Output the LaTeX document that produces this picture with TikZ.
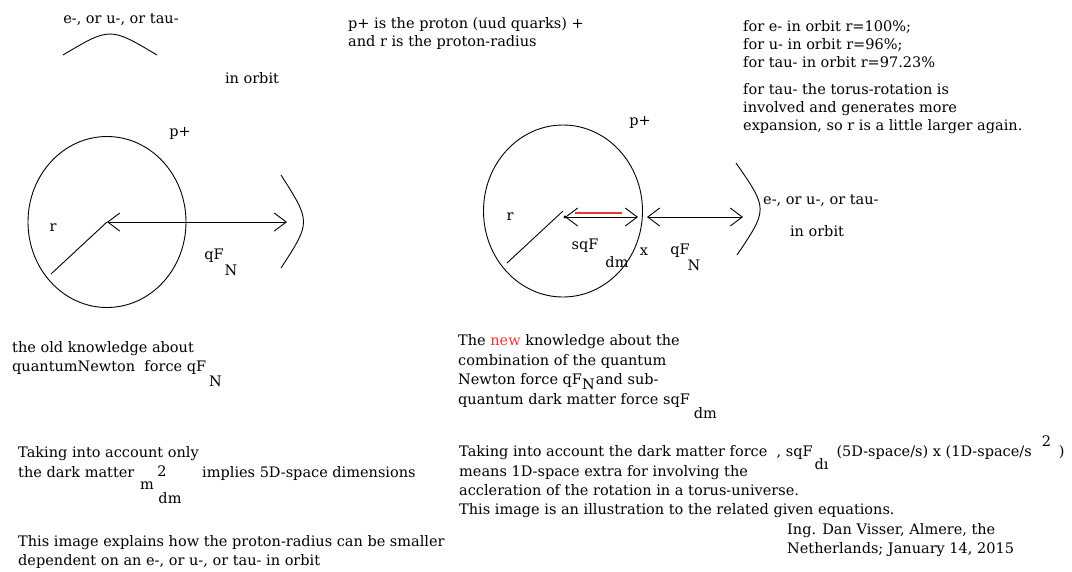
\documentclass[tikz,border=0pt]{standalone}
\usepackage{fontspec}
\setmainfont{DejaVu Serif}
\usetikzlibrary{arrows.meta,shapes.geometric}
\definecolor{newred}{RGB}{238,52,52}
\newcommand{\dropsub}[2]{\smash{\raisebox{#1}{#2}}}

\begin{document}
\begin{tikzpicture}[x=1pt,y=-1pt,>={Straight Barb[length=12pt,width=18pt]},
  txt/.style={inner sep=0pt,anchor=west,font=\fontsize{14.5}{19}\selectfont},
  lbl/.style={inner sep=0pt,font=\fontsize{14.5}{19}\selectfont},
  blk/.style={inner sep=0pt,anchor=north west,align=left,font=\fontsize{14.5}{#1}\selectfont},
  proton/.style={draw,ellipse,inner sep=0pt,line width=0.9pt},
  orbit/.style={line width=0.9pt}]
\useasboundingbox (0,0) rectangle (1072,571);

% heading texts
\node[lbl] (lep1) at (121,20) {e-, or u-, or tau-};
\node[lbl] (orb1) at (252,78) {in orbit};
\node[blk=18] (legend) at (348,17.5) {p+ is the proton (uud quarks) +\\and r is the proton-radius};
\node[blk=18] (radii) at (743,20.5) {for e- in orbit r=100\%;\\for u- in orbit r=96\%;\\for tau- in orbit r=97.23\%\\[9pt]
  for tau- the torus-rotation is\\involved and generates more\\expansion, so r is a little larger again.};

% left: the old picture
\node[proton,minimum width=158,minimum height=171] (p1) at (107,222) {};
\coordinate (r1) at (51,274);
\coordinate (o1) at (287,222);
\draw[orbit] (p1.center) -- (r1);
\draw[orbit,<->] (p1.center) -- (o1);
\draw[orbit] (281,175) .. controls (311,222) .. (281,268);
\draw[orbit] (63,55) .. controls (110,27) .. (157,55);
\node[lbl] (pp1) at (180,133) {p+};
\node[lbl] (rr1) at (53,228) {r};
\node[lbl] (qf1) at (214,256) {qF};
\node[lbl] (qf1n) at (231,270) {N};

% right: the new picture
\node[proton,minimum width=159,minimum height=172] (p2) at (563,211) {};
\coordinate (r2) at (507,263);
\coordinate (c2) at (565,217);
\coordinate (x2) at (638,217);
\coordinate (o2a) at (647,217);
\coordinate (o2b) at (743,217);
\draw[orbit] (p2.center) -- (r2);
\fill (c2) circle (1.6);
\draw[orbit,<->] (c2) -- (x2);
\draw[newred,line width=1.2pt] (575,213) -- (622,213);
\draw[orbit,<->] (o2a) -- (o2b);
\draw[orbit] (736,163) .. controls (768,209) .. (737,255);
\node[lbl] (pp2) at (640,122) {p+};
\node[lbl] (rr2) at (510,217) {r};
\node[lbl] (sqf2) at (585,246) {sqF};
\node[lbl] (sqf2dm) at (617,262) {dm};
\node[lbl] (xx2) at (644,252) {x};
\node[lbl] (qf2) at (680,251) {qF};
\node[lbl] (qf2n) at (694,265) {N};
\node[txt] (lep2) at (763,201) {e-, or u-, or tau-};
\node[lbl] (orb2) at (817,231) {in orbit};

% bottom texts
\node[blk=19] (old) at (12,341.5) {the old knowledge about\\quantumNewton\ \ force qF\kern3pt\dropsub{-15pt}{N}};
\node[blk=20] (only) at (18,446.5) {Taking into account only\\the dark matter};
\node[lbl] (mdm) at (147,486) {m};
\node[lbl] (mdm2) at (162,471) {2};
\node[lbl] (mdmsub) at (170,498) {dm};
\node[txt] (five) at (202,473) {implies 5D-space dimensions};
\node[blk=18.5] (explain) at (18,535.5) {This image explains how the proton-radius can be smaller\\dependent on an e-, or u-, or tau- in orbit};

\node[blk=19.5] (new) at (458,334.5) {The \textcolor{newred}{new} knowledge about the\\combination of the quantum\\
  Newton force qF\dropsub{-4.5pt}{N}\kern1pt and sub-\\quantum dark matter force sqF\kern4pt\dropsub{-14pt}{dm}};
\node[blk=19.3] (torus) at (459,445.5) {Taking into account the dark matter force \ , sqF\kern2pt\dropsub{-13pt}{dı}\kern8pt (5D-space/s) x (1D-space/s\kern10pt\smash{\raisebox{10pt}{2}}\kern8pt)\\
  means 1D-space extra for involving the\\accleration of the rotation in a torus-universe.\\This image is an illustration to the related given equations.};
\node[blk=19] (sign) at (787,523.5) {Ing. Dan Visser, Almere, the\\Netherlands; January 14, 2015};
\end{tikzpicture}
\end{document}
